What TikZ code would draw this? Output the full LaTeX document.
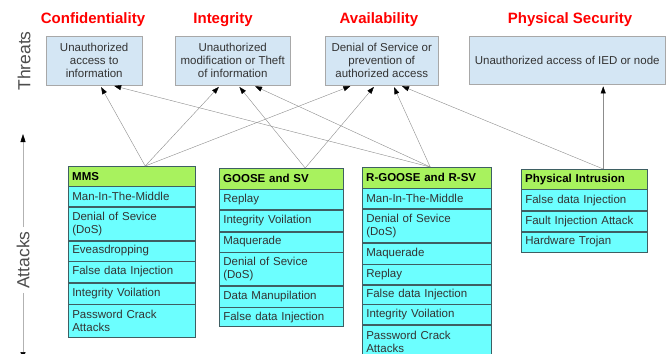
\documentclass[tikz,border=0pt]{standalone}
\usepackage{fontspec}
\setmainfont{Liberation Sans}
\usetikzlibrary{arrows.meta}
\definecolor{thrfill}{HTML}{D4E6F4}
\definecolor{thrline}{HTML}{A8A8A8}
\definecolor{hdrfill}{HTML}{A8F25E}
\definecolor{rowfill}{HTML}{6CFFFF}
\definecolor{rowline}{HTML}{3E5F63}
\tikzset{
    every node/.style={inner sep=0pt, font=\fontsize{11.5}{13}\selectfont}
}
\tikzset{
    threat/.style={rectangle, draw=thrline, fill=thrfill, align=center, text=black!80, anchor=north west},
    title/.style={text=red, font=\fontsize{15}{17}\selectfont\bfseries},
    side/.style={rotate=90, text=black!70, inner xsep=4pt, font=\fontsize{17.5}{19}\selectfont},
    hdr/.style={rectangle, draw=rowline, fill=hdrfill, anchor=north west, align=left, inner xsep=4pt, font=\fontsize{11.5}{13}\selectfont\bfseries},
    row/.style={rectangle, draw=rowline, line width=0.6pt, fill=rowfill, anchor=north west, align=left, inner xsep=4pt, text=black!80},
    thr/.style={draw=black!45, line width=0.4pt, shorten >=2pt, -{Triangle[length=7pt, width=5pt, color=black]}},
    axis/.style={draw=black!30, line width=0.5pt, -{Triangle[length=8pt, width=5pt, color=black]}},
    mms/.style={text width=119pt},
    goose/.style={text width=116pt},
    rgoose/.style={text width=121pt},
    phy/.style={text width=118pt}
}

\begin{document}
\begin{tikzpicture}[x=1pt, y=-1pt]
        \useasboundingbox (0,0) rectangle (671,353);
        % threats
        \node (tconf) [title] at (93,20) {Confidentiality};
        \node (tinteg) [title] at (223,20) {Integrity};
        \node (tavail) [title] at (379,20) {Availability};
        \node (tphys) [title] at (570,20) {Physical Security};
        \node (conf) [threat, minimum width=96pt, minimum height=49pt] at (46,36) {Unauthorized\\access to\\information};
        \node (integ) [threat, minimum width=115pt, minimum height=49pt] at (175,36) {Unauthorized\\modification or Theft\\of information};
        \node (avail) [threat, minimum width=113pt, minimum height=49pt] at (325,36) {Denial of Service or\\prevention of\\authorized access};
        \node (phys) [threat, minimum width=196pt, minimum height=48pt] at (469,36) {Unauthorized access of IED or node};
        \node (thr) [side] at (24,61) {Threats};
        % attacks axis
        \coordinate (atop) at (23,134);
        \coordinate (abot) at (23,360);
        \node (att) [side] at (23,260) {Attacks};
        \draw[axis] (att) -- (atop);
        \draw[axis] (att) -- (abot);
        % MMS
        \node (m0) [hdr, mms, minimum height=20pt] at (68,166) {MMS};
        \node (m1) [row, mms, minimum height=20pt] at (m0.south west) {Man-In-The-Middle};
        \node (m2) [row, mms, minimum height=33pt] at (m1.south west) {Denial of Sevice\\(DoS)};
        \node (m3) [row, mms, minimum height=20pt] at (m2.south west) {Eveasdropping};
        \node (m4) [row, mms, minimum height=21pt] at (m3.south west) {False data Injection};
        \node (m5) [row, mms, minimum height=21pt] at (m4.south west) {Integrity Voilation};
        \node (m6) [row, mms, minimum height=33pt] at (m5.south west) {Password Crack\\Attacks};
        % GOOSE and SV
        \node (g0) [hdr, goose, minimum height=21pt] at (219,168) {GOOSE and SV};
        \node (g1) [row, goose, minimum height=20pt] at (g0.south west) {Replay};
        \node (g2) [row, goose, minimum height=21pt] at (g1.south west) {Integrity Voilation};
        \node (g3) [row, goose, minimum height=20pt] at (g2.south west) {Maquerade};
        \node (g4) [row, goose, minimum height=33pt] at (g3.south west) {Denial of Sevice\\(DoS)};
        \node (g5) [row, goose, minimum height=21pt] at (g4.south west) {Data Manupilation};
        \node (g6) [row, goose, minimum height=19pt] at (g5.south west) {False data Injection};
        % R-GOOSE and R-SV
        \node (r0) [hdr, rgoose, minimum height=21pt] at (362,167) {R-GOOSE and R-SV};
        \node (r1) [row, rgoose, minimum height=20pt] at (r0.south west) {Man-In-The-Middle};
        \node (r2) [row, rgoose, minimum height=33pt] at (r1.south west) {Denial of Sevice\\(DoS)};
        \node (r3) [row, rgoose, minimum height=21pt] at (r2.south west) {Maquerade};
        \node (r4) [row, rgoose, minimum height=20pt] at (r3.south west) {Replay};
        \node (r5) [row, rgoose, minimum height=19pt] at (r4.south west) {False data Injection};
        \node (r6) [row, rgoose, minimum height=20pt] at (r5.south west) {Integrity Voilation};
        \node (r7) [row, rgoose, minimum height=33pt] at (r6.south west) {Password Crack\\Attacks};
        % Physical Intrusion
        \node (p0) [hdr, phy, minimum height=20pt] at (521,169) {Physical Intrusion};
        \node (p1) [row, phy, minimum height=21pt] at (p0.south west) {False data Injection};
        \node (p2) [row, phy, minimum height=20pt] at (p1.south west) {Fault Injection Attack};
        \node (p3) [row, phy, minimum height=20pt] at (p2.south west) {Hardware Trojan};
        % attack -> threat
        \draw[thr] ([xshift=13.5pt]m0.north) -- ([xshift=6pt]conf.south);
        \draw[thr] ([xshift=13.5pt]m0.north) -- ([xshift=-12.5pt]integ.south);
        \draw[thr] ([xshift=13.5pt]m0.north) -- ([xshift=-29.5pt]avail.south);
        \draw[thr] ([xshift=24pt]g0.north) -- ([xshift=5.5pt]integ.south);
        \draw[thr] ([xshift=24pt]g0.north) -- ([xshift=-6.5pt]avail.south);
        \draw[thr] ([xshift=3.5pt]r0.north) -- ([xshift=18pt]conf.south);
        \draw[thr] ([xshift=3.5pt]r0.north) -- ([xshift=20.5pt]integ.south);
        \draw[thr] ([xshift=3.5pt]r0.north) -- ([xshift=11.5pt]avail.south);
        \draw[thr] ([xshift=19pt]p0.north) -- ([xshift=18.5pt]avail.south);
        \draw[thr] ([xshift=19pt]p0.north) -- ([xshift=36pt]phys.south);
\end{tikzpicture}
\end{document}
